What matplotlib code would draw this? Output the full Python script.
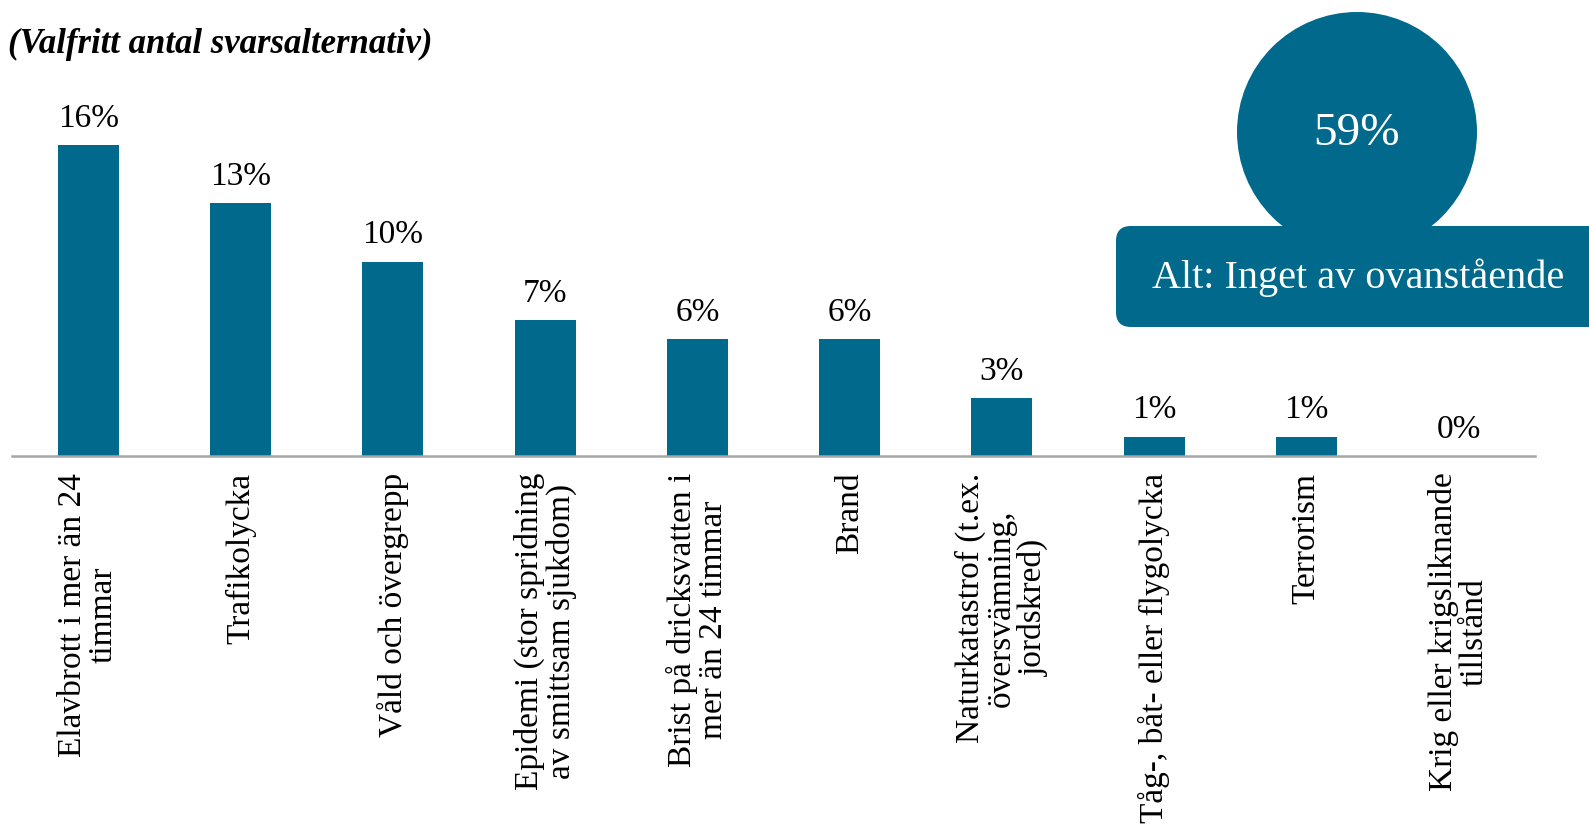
import matplotlib.pyplot as plt
from matplotlib.patches import Circle, FancyBboxPatch

# Survey data
categories = [
    "Elavbrott i mer än 24\ntimmar",
    "Trafikolycka",
    "Våld och övergrepp",
    "Epidemi (stor spridning\nav smittsam sjukdom)",
    "Brist på dricksvatten i\nmer än 24 timmar",
    "Brand",
    "Naturkatastrof (t.ex.\növersvämning,\njordskred)",
    "Tåg-, båt- eller flygolycka",
    "Terrorism",
    "Krig eller krigsliknande\ntillstånd",
]
values = [16, 13, 10, 7, 6, 6, 3, 1, 1, 0]
none_label = "Alt: Inget av ovanstående"
none_value = 59
subtitle = "(Valfritt antal svarsalternativ)"

color = '#00698c'
plt.rcParams['font.family'] = ['Liberation Serif', 'DejaVu Serif']

W, H = 1589, 832
fig = plt.figure(figsize=(W / 100, H / 100), dpi=100)

# Main bar chart, placed in pixel terms
left, right, base, top = 12, 1535, 456, 67
ax = fig.add_axes([left / W, 1 - base / H, (right - left) / W, (base - top) / H])
x = range(len(values))
bars = ax.bar(x, values, width=0.4, color=color, zorder=2)
ax.bar_label(bars, labels=[f"{v}%" for v in values], padding=8, fontsize=24)

ax.set_xlim(-0.5, len(values) - 0.5)
ax.set_ylim(0, 20)
ax.set_xticks(list(x))
ax.set_xticklabels(categories, rotation=90, ha='center', va='top',
                   multialignment='center', linespacing=1.02, fontsize=24)
ax.tick_params(axis='x', length=0, pad=12)
ax.set_yticks([])
for s in ['top', 'right', 'left']:
    ax.spines[s].set_visible(False)
ax.spines['bottom'].set_color('#a6a6a6')
ax.spines['bottom'].set_linewidth(1.8)

# Subtitle
fig.text(8 / W, 1 - 44 / H, subtitle, fontsize=25, fontstyle='italic',
         fontweight='bold', ha='left', va='center')

# Overlay for the "none of the above" callout, in pixel coordinates
ov = fig.add_axes([0, 0, 1, 1], zorder=5)
ov.set_xlim(0, W)
ov.set_ylim(H, 0)
ov.set_axis_off()
ov.add_patch(Circle((1357, 132), 120, color=color, lw=0))
ov.add_patch(FancyBboxPatch((1131, 241), 480, 71,
                            boxstyle='round,pad=15,rounding_size=15',
                            color=color, lw=0))
ov.text(1357, 134, f"{none_value}%", color='white', fontsize=34,
        ha='center', va='center')
ov.text(1358, 278, none_label, color='white', fontsize=29,
        ha='center', va='center')

fig.savefig('out.png', dpi=100)
